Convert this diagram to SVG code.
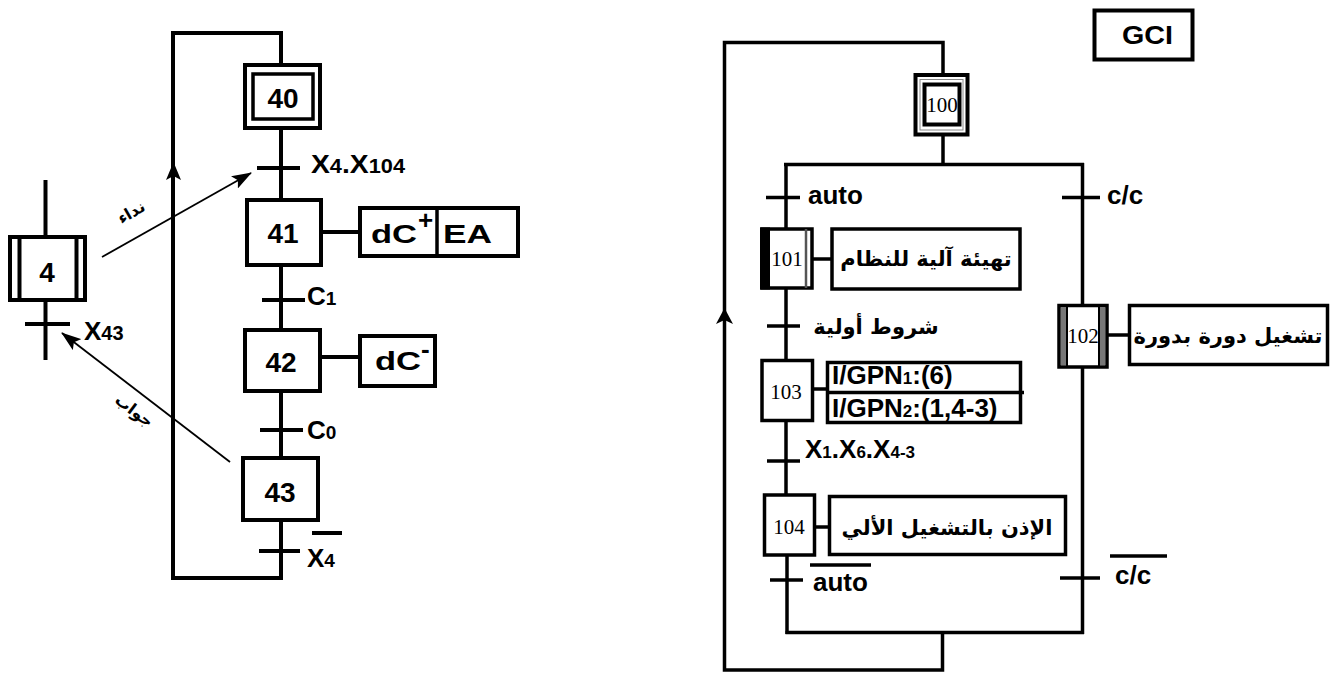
<svg xmlns="http://www.w3.org/2000/svg" width="1336" height="673" viewBox="0 0 1336 673">
<defs>
<style>
.ln{fill:none;stroke:#000;stroke-width:4}
.ln3{fill:none;stroke:#000;stroke-width:3.5}
.box{fill:#fff;stroke:#000;stroke-width:4}
.box3{fill:#fff;stroke:#000;stroke-width:3.5}
.thin{fill:none;stroke:#000;stroke-width:1.8}
.lb{font-family:'Liberation Sans',Arial,sans-serif;font-weight:bold;font-size:26px;fill:#000}
.num{font-family:'Liberation Sans',Arial,sans-serif;font-weight:bold;font-size:28px;fill:#000;text-anchor:middle}
.sn{font-family:'Liberation Serif','Times New Roman',serif;font-size:21px;fill:#000;text-anchor:middle}
.ar{font-family:'DejaVu Sans',sans-serif;font-weight:bold;font-size:21px;fill:#000;text-anchor:middle}
.ars{font-family:'DejaVu Sans',sans-serif;font-weight:bold;font-size:16px;fill:#000;text-anchor:middle}
</style>
<marker id="ah" markerWidth="20" markerHeight="14" refX="19" refY="7" orient="auto" markerUnits="userSpaceOnUse">
<path d="M0,0 L20,7 L0,14 L4,7 Z" fill="#000"/>
</marker>
</defs>

<!-- connectors -->
<g id="connectors">
<!-- left grafcet loop -->
<polyline class="ln" points="281,65 281,33 173,33 173,578 281,578 281,520"/>
<polygon points="173.5,162 166,180 173.5,176 181,180" fill="#000"/>
<line class="ln" x1="281" y1="128" x2="281" y2="200"/>
<line class="ln" x1="281" y1="265" x2="281" y2="330"/>
<line class="ln" x1="281" y1="391" x2="281" y2="458"/>
<line class="ln" x1="321" y1="232" x2="360" y2="232"/>
<line class="ln" x1="320" y1="357" x2="360" y2="357"/>
<!-- transitions left -->
<line class="ln" x1="257" y1="168" x2="300" y2="168"/>
<line class="ln" x1="262" y1="300" x2="305" y2="300"/>
<line class="ln" x1="260" y1="430" x2="303" y2="430"/>
<line class="ln" x1="259" y1="551" x2="300" y2="551"/>
<!-- step 4 -->
<line class="ln" x1="45.5" y1="180" x2="45.5" y2="237"/>
<line class="ln" x1="45.5" y1="300" x2="45.5" y2="360"/>
<line class="ln" x1="25" y1="324" x2="70" y2="324"/>
<!-- arrows -->
<line class="thin" x1="102" y1="257" x2="251" y2="173" marker-end="url(#ah)"/>
<line class="thin" x1="230" y1="462" x2="62" y2="333" marker-end="url(#ah)"/>

<!-- right grafcet loop -->
<polyline class="ln3" points="943,75 943,42.5 724.5,42.5 724.5,670 942.5,670 942.5,632.5"/>
<polygon points="724.5,308 716,324 724.5,320 733,324" fill="#000"/>
<line class="ln3" x1="943" y1="134" x2="943" y2="164.5"/>
<line class="ln3" x1="784" y1="164.5" x2="1084" y2="164.5"/>
<line class="ln3" x1="785.5" y1="632.5" x2="1084" y2="632.5"/>
<!-- left branch -->
<line class="ln3" x1="786" y1="163" x2="786" y2="229"/>
<line class="ln3" x1="786" y1="288" x2="786" y2="360"/>
<line class="ln3" x1="786" y1="420" x2="786" y2="495"/>
<line class="ln3" x1="787" y1="555" x2="787" y2="634"/>
<!-- right branch -->
<line class="ln3" x1="1082.5" y1="163" x2="1082.5" y2="305"/>
<line class="ln3" x1="1082.5" y1="367" x2="1082.5" y2="634"/>
<!-- transitions right -->
<line class="ln3" x1="766" y1="197.5" x2="800" y2="197.5"/>
<line class="ln3" x1="1062" y1="197.5" x2="1100" y2="197.5"/>
<line class="ln3" x1="767" y1="326" x2="800" y2="326"/>
<line class="ln3" x1="767" y1="461" x2="800" y2="461"/>
<line class="ln3" x1="770" y1="580" x2="803" y2="580"/>
<line class="ln3" x1="1060" y1="578" x2="1100" y2="578"/>
<!-- action links right -->
<line class="ln3" x1="812" y1="259" x2="832" y2="259"/>
<line class="ln3" x1="812" y1="389" x2="828" y2="389"/>
<line class="ln3" x1="814" y1="527" x2="830" y2="527"/>
<line class="ln3" x1="1107" y1="335" x2="1130" y2="335"/>
</g>

<!-- left grafcet steps -->
<g id="step4">
<rect class="box" x="10" y="237" width="75" height="63"/>
<line class="ln" x1="19.5" y1="237" x2="19.5" y2="300"/>
<line class="ln" x1="76.5" y1="237" x2="76.5" y2="300"/>
<text class="num" x="47" y="282">4</text>
</g>
<g id="step40">
<rect class="box" x="245" y="65" width="75" height="63"/>
<rect class="box3" x="253" y="74" width="60" height="45"/>
<text class="num" x="283" y="108">40</text>
</g>
<g id="step41">
<rect class="box" x="247" y="200" width="74" height="65"/>
<text class="num" x="283" y="243">41</text>
</g>
<g id="action41">
<rect class="box" x="360" y="208" width="158" height="48"/>
<line class="ln3" x1="437" y1="208" x2="437" y2="256"/>
<text class="lb" x="371" y="243" font-size="28" textLength="46" lengthAdjust="spacingAndGlyphs">dC</text>
<text class="lb" x="418" y="229" font-size="20">+</text>
<text class="lb" x="443" y="243" font-size="28" textLength="49" lengthAdjust="spacingAndGlyphs">EA</text>
</g>
<g id="step42">
<rect class="box" x="245" y="330" width="75" height="61"/>
<text class="num" x="281" y="372">42</text>
</g>
<g id="action42">
<rect class="box" x="360" y="336" width="75" height="50"/>
<text class="lb" x="375" y="370" font-size="28" textLength="46" lengthAdjust="spacingAndGlyphs">dC</text>
<text class="lb" x="421" y="358" font-size="24">-</text>
</g>
<g id="step43">
<rect class="box" x="243" y="458" width="75" height="62"/>
<text class="num" x="280" y="502">43</text>
</g>
<g id="labels-left">
<text class="lb" x="311" y="173" font-size="28" textLength="94" lengthAdjust="spacingAndGlyphs">X<tspan font-size="20">4</tspan>.X<tspan font-size="20">104</tspan></text>
<text class="lb" x="307" y="305" font-size="27">C<tspan font-size="19">1</tspan></text>
<text class="lb" x="307" y="439" font-size="27">C<tspan font-size="19">0</tspan></text>
<text class="lb" x="307" y="567" font-size="27">X<tspan font-size="19">4</tspan></text>
<line class="ln" x1="312" y1="533" x2="342" y2="533"/>
<text class="lb" x="84" y="340" font-size="28">X<tspan font-size="20">43</tspan></text>
<text class="ars" transform="translate(134,217) rotate(-30)">نداء</text>
<text class="ars" transform="translate(131,415) rotate(37)">جواب</text>
</g>

<!-- right grafcet -->
<g id="gci">
<rect class="box" x="1094.5" y="10.5" width="98" height="49"/>
<text class="lb" x="1122" y="44" font-size="28" textLength="51" lengthAdjust="spacingAndGlyphs">GCI</text>
</g>
<g id="step100">
<rect class="box" x="915.5" y="75" width="52" height="59.5"/>
<rect fill="none" stroke="#888" stroke-width="1" x="920" y="79.5" width="43" height="50.5"/>
<rect class="box" x="924.5" y="84.5" width="35" height="40"/>
<text class="sn" x="942" y="112">100</text>
</g>
<g id="step101">
<rect class="box3" x="762" y="229" width="50" height="59"/>
<rect x="760" y="227.5" width="10" height="62" fill="#000"/>
<line stroke="#555" stroke-width="2.5" x1="806" y1="229" x2="806" y2="288"/>
<text class="sn" x="787" y="266">101</text>
</g>
<g id="action101">
<rect class="box3" x="832" y="229" width="188" height="60"/>
<text class="ar" x="926" y="266" font-size="22">تهيئة آلية للنظام</text>
</g>
<g id="step102">
<rect x="1059" y="305.5" width="48" height="61.5" fill="#fff" stroke="#000" stroke-width="3.5"/>
<rect x="1061" y="307" width="5" height="58" fill="#777"/>
<rect x="1100" y="307" width="5" height="58" fill="#777"/>
<line stroke="#000" stroke-width="2" x1="1067" y1="306" x2="1067" y2="366"/>
<line stroke="#000" stroke-width="2" x1="1099" y1="306" x2="1099" y2="366"/>
<text class="sn" x="1083" y="343">102</text>
</g>
<g id="action102">
<rect class="box3" x="1129.5" y="305.5" width="198" height="59"/>
<text class="ar" x="1228" y="343" font-size="20">تشغيل دورة بدورة</text>
</g>
<g id="step103">
<rect class="box3" x="762" y="360.5" width="50.5" height="60"/>
<text class="sn" x="786" y="399">103</text>
</g>
<g id="action103">
<rect class="box3" x="827.5" y="362.5" width="193" height="60"/>
<line class="ln3" x1="827.5" y1="392.5" x2="1024" y2="392.5"/>
<text class="lb" x="832" y="384" font-size="23">I/GPN<tspan font-size="17">1</tspan>:(6)</text>
<text class="lb" x="832" y="417" font-size="23">I/GPN<tspan font-size="17">2</tspan>:(1,4-3)</text>
</g>
<g id="step104">
<rect class="box3" x="764.5" y="495" width="50" height="60"/>
<text class="sn" x="789" y="534">104</text>
</g>
<g id="action104">
<rect class="box3" x="829.5" y="496.5" width="236" height="58"/>
<text class="ar" x="947" y="535">الإذن بالتشغيل الألي</text>
</g>
<g id="labels-right">
<text class="lb" x="808" y="204">auto</text>
<text class="lb" x="1107" y="204" font-size="27">c/c</text>
<text class="ar" x="876" y="334">شروط أولية</text>
<text class="lb" x="805" y="458" font-size="24">X<tspan font-size="17">1</tspan>.X<tspan font-size="17">6</tspan>.X<tspan font-size="17">4-3</tspan></text>
<text class="lb" x="813" y="591">auto</text>
<line class="ln3" x1="810" y1="565" x2="871" y2="565"/>
<text class="lb" x="1115" y="584" font-size="27">c/c</text>
<line class="ln3" x1="1110" y1="556" x2="1167" y2="556"/>
</g>
</svg>
